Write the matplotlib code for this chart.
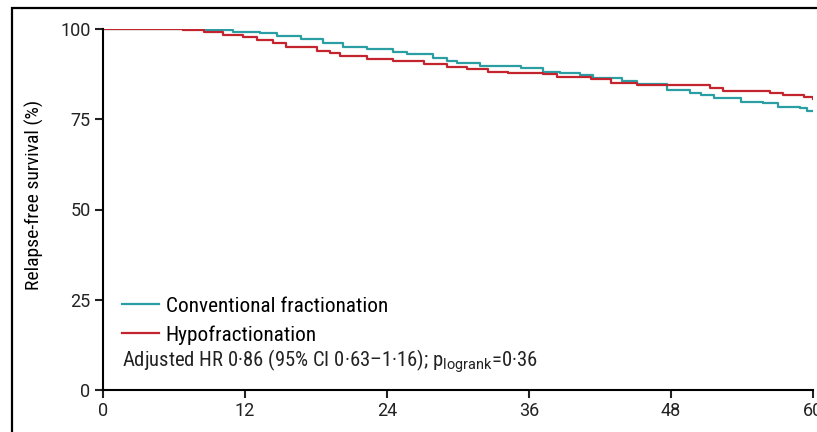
import matplotlib
matplotlib.use('Agg')
import matplotlib.pyplot as plt
from matplotlib.patches import Rectangle

plt.rcParams['font.family'] = ['Roboto Condensed', 'DejaVu Sans Condensed', 'Roboto', 'DejaVu Sans']
plt.rcParams['mathtext.fontset'] = 'custom'
plt.rcParams['mathtext.rm'] = 'Roboto'

# step curves (months, % relapse-free)
conv_t = [0, 8.5, 11.0, 13.3, 14.7, 16.7, 18.6, 20.3, 22.3, 24.5, 25.7, 27.9, 29.1, 29.9,
          31.9, 35.3, 37.2, 38.6, 40.3, 41.4, 43.9, 45.1, 47.7, 49.6, 50.5, 51.6, 53.9,
          55.8, 57.0, 58.9, 59.5, 60]
conv_s = [100, 99.7, 99.3, 98.8, 98.1, 97.2, 96.2, 95.1, 94.4, 93.5, 93.1, 91.9, 91.0, 90.5,
          89.8, 89.1, 88.2, 87.7, 87.3, 86.4, 85.7, 84.8, 83.1, 82.4, 81.8, 80.8, 79.9,
          79.4, 78.5, 78.0, 77.2, 77.2]
hypo_t = [0, 6.8, 8.5, 10.1, 11.8, 13.0, 14.4, 15.5, 18.1, 19.2, 20.0, 22.3, 24.5, 27.1,
          29.1, 30.8, 32.5, 34.2, 37.2, 38.4, 41.2, 42.9, 45.1, 51.3, 52.4, 56.4, 57.5,
          59.2, 60]
hypo_s = [100, 99.7, 99.1, 98.3, 97.7, 97.0, 96.2, 95.1, 94.0, 93.3, 92.5, 91.6, 91.0, 90.2,
          89.6, 88.8, 88.2, 87.7, 87.4, 86.7, 86.1, 85.0, 84.5, 83.6, 82.9, 82.4, 81.8,
          81.1, 80.5]
xticks = [0, 12, 24, 36, 48, 60]
yticks = [0, 25, 50, 75, 100]

teal = '#2a9ea3'
red = '#c4242d'

fig = plt.figure(figsize=(8.17, 4.32), dpi=100)
ax = fig.add_axes([103/817, 42/432, 710/817, 361/432])

ax.step(conv_t, conv_s, where='post', color=teal, lw=1.6, label='Conventional fractionation')
ax.step(hypo_t, hypo_s, where='post', color=red, lw=1.6, label='Hypofractionation')

ax.set_xlim(0, 60)
ax.set_ylim(0, 100)
ax.set_xticks(xticks)
ax.set_yticks(yticks)
ax.tick_params(length=6, width=1.5, labelsize=13, colors='#222222', pad=3)
for lab in ax.get_xticklabels() + ax.get_yticklabels():
    lab.set_family(['Roboto', 'DejaVu Sans'])
for s in ['top', 'right']:
    ax.spines[s].set_visible(False)
for s in ['left', 'bottom']:
    ax.spines[s].set_linewidth(1.5)
ax.set_ylabel('Relapse-free survival (%)', fontsize=14)
ax.yaxis.set_label_coords(-0.083, 0.541)

leg = ax.legend(loc='lower left', bbox_to_anchor=(0.0, 0.072), frameon=False,
                fontsize=15.3, handlelength=1.75, handletextpad=0.3, labelspacing=0.45)
ax.text(0.027, 0.08, 'Adjusted HR 0·86 (95% CI 0·63–1·16); p$_{\\rm logrank}$=0·36',
        transform=ax.transAxes, fontsize=14.9, color='#222222', va='center')

# outer frame of the figure panel
fig.add_artist(Rectangle((12/817, -0.1), 1.2, (432-8)/432 + 0.1, transform=fig.transFigure,
                         fill=False, lw=1.6, ec='black', clip_on=False))

fig.savefig('out.png', dpi=100)
